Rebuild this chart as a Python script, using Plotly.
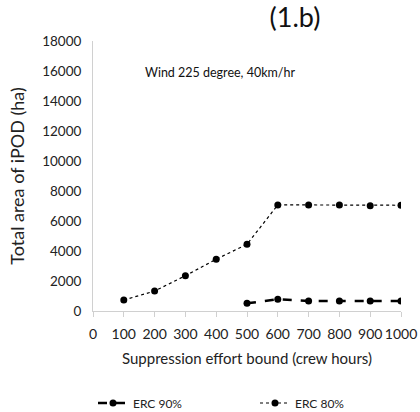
import plotly.graph_objects as go

x80 = [100, 200, 300, 400, 500, 600, 700, 800, 900, 1000]
y80 = [730, 1330, 2350, 3450, 4450, 7070, 7070, 7070, 7020, 7050]
x90 = [500, 600, 700, 800, 900, 1000]
y90 = [510, 780, 670, 670, 670, 670]
xticks = [0, 100, 200, 300, 400, 500, 600, 700, 800, 900, 1000]
yticks = [0, 2000, 4000, 6000, 8000, 10000, 12000, 14000, 16000, 18000]

FONT = "Lato"
fig = go.Figure()
fig.add_trace(go.Scatter(x=x90, y=y90, name="ERC 90%", mode="lines+markers",
                         line=dict(color="black", width=2.5, dash="dash"),
                         marker=dict(color="black", size=7), legend="legend",
                         showlegend=True))
fig.add_trace(go.Scatter(x=x80, y=y80, name="ERC 80%", mode="lines+markers",
                         line=dict(color="black", width=1.2, dash="dot"),
                         marker=dict(color="black", size=7), legend="legend2",
                         showlegend=True))

leg_common = dict(xanchor="left", yanchor="middle", y=-92/270, font=dict(size=12),
                  bgcolor="rgba(0,0,0,0)", borderwidth=0, orientation="h",
                  xref="paper", yref="paper", visible=True)

fig.update_layout(
    width=420, height=412, showlegend=True,
    margin=dict(l=93, r=19, t=41, b=101, autoexpand=False),
    paper_bgcolor="white", plot_bgcolor="white",
    font=dict(family=FONT, color="#222", size=13),
    title=dict(text="(1.b)", x=295/420, xanchor="center", y=1-18/412, yanchor="middle",
               font=dict(size=27, family=FONT, color="#111")),
    xaxis=dict(range=[0, 1000], tickvals=xticks, ticktext=[str(v) for v in xticks],
               showgrid=False, zeroline=False,
               showline=True, linecolor="#d0d0d0", linewidth=1,
               ticks="outside", ticklen=5, tickcolor="#d0d0d0",
               tickfont=dict(size=14), ticklabelstandoff=5, automargin=False,
               title=dict(text="Suppression effort bound (crew hours)", font=dict(size=15), standoff=12)),
    yaxis=dict(range=[0, 18000], tickvals=yticks, ticktext=[str(v) for v in yticks],
               showgrid=False, zeroline=False,
               showline=True, linecolor="#d0d0d0", linewidth=1, ticks="",
               tickfont=dict(size=13.5), ticklabelstandoff=8, automargin=False,
               title=dict(text="Total area of iPOD (ha)", font=dict(size=18), standoff=12)),
    legend=dict(x=0.0, **leg_common),
    legend2=dict(x=(255-93)/308, **leg_common),
    annotations=[dict(text="Wind 225 degree, 40km/hr", x=(143-93)/308, y=(311-72)/270,
                      xref="paper", yref="paper", xanchor="left", yanchor="middle",
                      showarrow=False, font=dict(size=12.5, family=FONT, color="#111"))],
)
fig.write_html("out.html")
